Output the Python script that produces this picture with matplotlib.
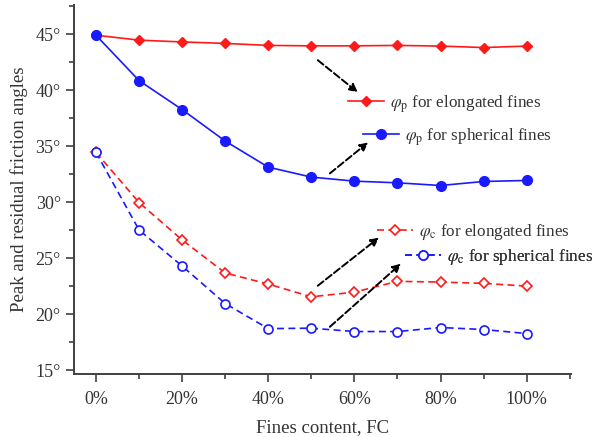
import numpy as np
import matplotlib
matplotlib.use("Agg")
import matplotlib.pyplot as plt
from matplotlib.ticker import MultipleLocator, FuncFormatter

plt.rcParams['font.family'] = ['Liberation Serif', 'DejaVu Serif']
plt.rcParams['mathtext.fontset'] = 'stix'

# fines content (%) and friction angles (degrees)
fc = [0, 10, 20, 30, 40, 50, 60, 70, 80, 90, 100]
peak_elong = [44.9, 44.46, 44.3, 44.17, 43.99, 43.95, 43.95, 43.99, 43.93, 43.8, 43.93]
peak_spher = [44.9, 40.85, 38.26, 35.45, 33.12, 32.23, 31.87, 31.72, 31.48, 31.84, 31.93]
res_elong = [34.44, 29.96, 26.62, 23.67, 22.68, 21.54, 21.96, 22.92, 22.86, 22.74, 22.5]
res_spher = [34.44, 27.51, 24.29, 20.94, 18.7, 18.74, 18.44, 18.44, 18.8, 18.62, 18.26]

labels = [r'$\varphi_{\rm p}$ for elongated fines',
          r'$\varphi_{\rm p}$ for spherical fines',
          r'$\varphi_{\rm c}$ for elongated fines',
          r'$\varphi_{\rm c}$ for spherical fines']

txt = '#333333'
red = '#ff1a1a'
blue = '#1a1aff'
dash = (0, (4.2, 2.6))

fig = plt.figure(figsize=(5.93, 4.37), dpi=100)
ax = fig.add_axes([0.1248, 0.1442, 0.8382, 0.8444])

l1, = ax.plot(fc, peak_elong, color=red, lw=1.2, marker='D', ms=5.5, mfc=red, mec=red)
l2, = ax.plot(fc, peak_spher, color=blue, lw=1.2, marker='o', ms=7, mfc=blue, mec=blue)
l3, = ax.plot(fc, res_elong, color=red, lw=1.2, ls=dash, marker='D', ms=5.5,
              mfc='white', mec=red, mew=1.2)
l4, = ax.plot(fc, res_spher, color=blue, lw=1.2, ls=dash, marker='o', ms=6.5,
              mfc='white', mec=blue, mew=1.2)

ax.set_xlim(-5.1, 110.3)
ax.set_ylim(14.65, 47.6)

for s in ['top', 'right']:
    ax.spines[s].set_visible(False)
for s in ['left', 'bottom']:
    ax.spines[s].set_linewidth(1.4)
    ax.spines[s].set_color('#404040')

ax.xaxis.set_major_locator(MultipleLocator(20))
ax.xaxis.set_minor_locator(MultipleLocator(10))
ax.yaxis.set_major_locator(MultipleLocator(5))
ax.yaxis.set_minor_locator(MultipleLocator(2.5))
ax.xaxis.set_major_formatter(FuncFormatter(lambda v, p: '%d%%' % v))
ax.yaxis.set_major_formatter(FuncFormatter(lambda v, p: '%d°' % v))
ax.tick_params(which='both', direction='out', color='#404040', width=1.2, labelsize=13,
               labelcolor=txt)
ax.tick_params(which='major', length=6)
ax.tick_params(which='minor', length=3.5)
ax.tick_params(axis='x', which='major', pad=6)

ax.set_xlabel('Fines content, FC', fontsize=13.5, color=txt, labelpad=8)
ax.set_ylabel('Peak and residual friction angles', fontsize=13.5, color=txt, labelpad=5)

# labels placed next to the curves
spots = [(0.587, 0.762), (0.612, 0.687), (0.636, 0.470), (0.683, 0.411)]
for h, lab, pos in zip([l1, l2, l3, l4], labels, spots):
    lg = ax.legend(handles=[h], labels=[lab], loc='center left', bbox_to_anchor=pos,
                   bbox_transform=fig.transFigure, frameon=False, fontsize=12.3,
                   handlelength=2.1, handletextpad=0.35, borderpad=0, borderaxespad=0,
                   labelcolor=txt)
    ax.add_artist(lg)

# dashed pointers
arrows = [((51.5, 42.67), (60.8, 39.8)),
          ((54.3, 32.56), (63.2, 35.33)),
          ((51.5, 22.53), (65.7, 26.83)),
          ((54.3, 18.86), (70.8, 24.5))]
for start, end in arrows:
    ax.annotate('', xy=end, xytext=start,
                arrowprops=dict(arrowstyle='-|>', ls='--', color='black', lw=1.4,
                                mutation_scale=12, shrinkA=0, shrinkB=0))

fig.savefig('out.png', dpi=100)
